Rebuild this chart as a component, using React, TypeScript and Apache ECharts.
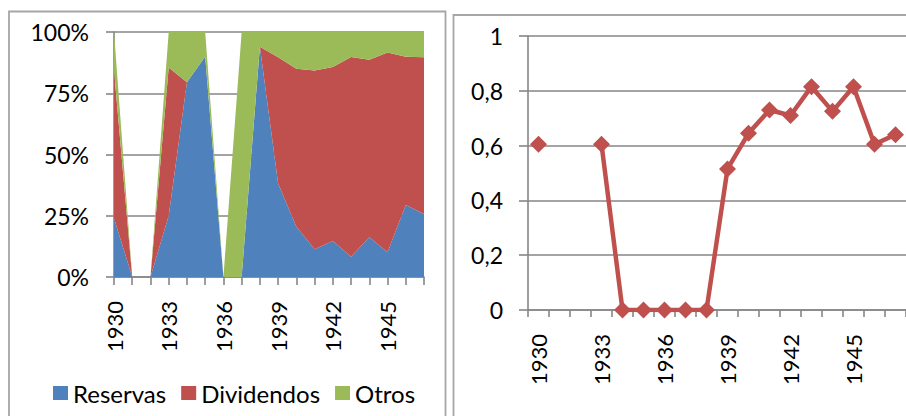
import React, { useEffect, useRef } from "react";
import * as echarts from "echarts";

// Years shown on both panels
const years = [
  "1930", "1931", "1932", "1933", "1934", "1935", "1936", "1937", "1938",
  "1939", "1940", "1941", "1942", "1943", "1944", "1945", "1946", "1947",
];

// Distribution of results (percent of total per year)
const reservas = [24, 0, 0, 25, 79.5, 90, 0, 0, 94, 38.2, 20.5, 11.3, 14.7, 8.3, 16.2, 10.1, 29.4, 25.7];
const dividendos = [60.5, 0, 0, 60.5, 0, 0, 0, 0, 0, 51.5, 64.5, 73, 71, 81.5, 72.5, 81.5, 60.5, 64];
const otros = [15.5, 0, 0, 14.5, 20.5, 10, 0, 100, 6, 10.3, 15, 15.7, 14.3, 10.2, 11.3, 8.4, 10.1, 10.3];

// Share paid out as dividends (no value in 1931-1932)
const payout = [0.605, null, null, 0.605, 0, 0, 0, 0, 0, 0.515, 0.645, 0.73, 0.71, 0.815, 0.725, 0.815, 0.605, 0.64];

const seriesNames = ["Reservas", "Dividendos", "Otros"];
const pctTicks = [0, 25, 50, 75, 100];

const BLUE = "#4F81BD";
const RED = "#C0504D";
const GREEN = "#9BBB59";
const GRID = "#868686";
const FONT = "Lato";

const totals = years.map((_, i) => reservas[i] + dividendos[i] + otros[i]);
const share = (arr: number[]) => arr.map((v, i) => (totals[i] ? (v / totals[i]) * 100 : 0));

export default function App() {
  const ref = useRef<HTMLDivElement>(null);

  useEffect(() => {
    if (!ref.current) return;
    const chart = echarts.init(ref.current, null, { renderer: "svg" });

    const axisLine = { show: true, lineStyle: { color: GRID, width: 1.6 } };
    const tick = (len: number) => ({ show: true, interval: 0, length: len, lineStyle: { color: GRID, width: 1.6 } });
    const xLabel = { interval: 2, rotate: 90, fontSize: 22, color: "#000", margin: 24, fontFamily: FONT };

    const areaSeries = [reservas, dividendos, otros].map((arr, k) => ({
      name: seriesNames[k],
      type: "line",
      xAxisIndex: 0,
      yAxisIndex: 0,
      stack: "total",
      data: share(arr),
      showSymbol: false,
      symbol: "none",
      lineStyle: { width: 0 },
      areaStyle: { color: [BLUE, RED, GREEN][k], opacity: 1 },
      itemStyle: { color: [BLUE, RED, GREEN][k] },
      z: 2,
    }));

    chart.setOption({
      animation: false,
      textStyle: { fontFamily: FONT },
      graphic: [
        {
          type: "rect",
          z: -10,
          shape: { x: 9, y: 11.5, width: 436.5, height: 430 },
          style: { fill: "#fff", stroke: "#a6a6a6", lineWidth: 1.8 },
        },
        {
          type: "rect",
          z: -10,
          shape: { x: 453.5, y: 15, width: 480, height: 430 },
          style: { fill: "#fff", stroke: "#a6a6a6", lineWidth: 1.8 },
        },
      ],
      legend: {
        data: seriesNames,
        left: 48,
        top: 376,
        icon: "rect",
        itemWidth: 15,
        itemHeight: 14,
        itemGap: 15,
        textStyle: { fontSize: 24, color: "#000", fontFamily: FONT },
      },
      grid: [
        { left: 114, top: 32, width: 310, height: 245 },
        { left: 528, top: 36, width: 385, height: 274 },
      ],
      xAxis: [
        {
          gridIndex: 0,
          type: "category",
          data: years,
          boundaryGap: false,
          axisLine,
          axisTick: tick(8),
          axisLabel: xLabel,
          splitLine: { show: false },
        },
        {
          gridIndex: 1,
          type: "category",
          data: years,
          boundaryGap: true,
          axisLine,
          axisTick: tick(7),
          axisLabel: xLabel,
          splitLine: { show: false },
        },
      ],
      yAxis: [
        {
          gridIndex: 0,
          type: "value",
          min: pctTicks[0],
          max: pctTicks[pctTicks.length - 1],
          interval: 25,
          axisLine,
          axisTick: { show: true, length: 8, lineStyle: { color: GRID, width: 1.6 } },
          axisLabel: { formatter: "{value}%", fontSize: 23, color: "#000", margin: 25, fontFamily: FONT },
          splitLine: { show: true, lineStyle: { color: GRID, width: 1.6 } },
        },
        {
          gridIndex: 1,
          type: "value",
          min: 0,
          max: 1,
          interval: 0.2,
          axisLine,
          axisTick: { show: true, length: 9, lineStyle: { color: GRID, width: 1.6 } },
          axisLabel: {
            formatter: (v: number) => String(+v.toFixed(1)).replace(".", ","),
            fontSize: 23,
            color: "#000",
            margin: 25,
            fontFamily: FONT,
          },
          splitLine: { show: true, lineStyle: { color: GRID, width: 1.6 } },
        },
      ],
      series: [
        ...areaSeries,
        {
          name: "Payout",
          type: "line",
          xAxisIndex: 1,
          yAxisIndex: 1,
          data: payout,
          connectNulls: false,
          symbol: "diamond",
          symbolSize: 17,
          showAllSymbol: true,
          lineStyle: { color: RED, width: 4.5 },
          itemStyle: { color: RED },
          z: 3,
        },
      ],
    });

    return () => chart.dispose();
  }, []);

  return (
    <div
      ref={ref}
      style={{ position: "absolute", left: 0, top: 0, width: 906, height: 416, background: "#fff" }}
    />
  );
}
